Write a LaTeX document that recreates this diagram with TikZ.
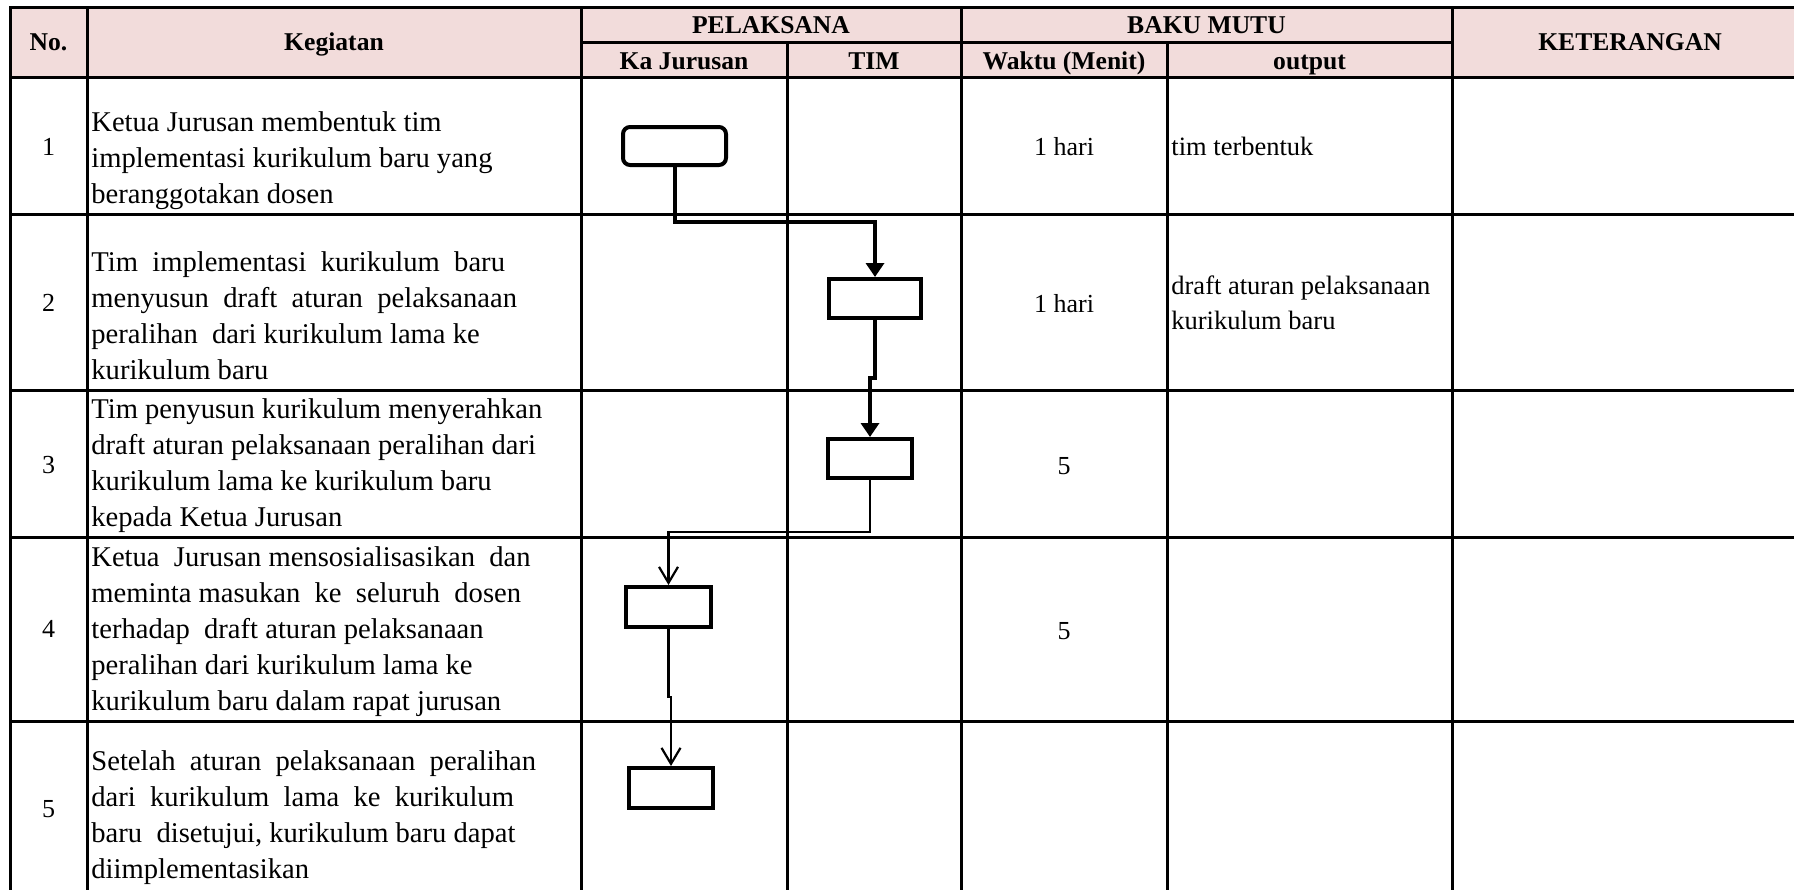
\documentclass[tikz,border=0pt]{standalone}
\usepackage{fontspec}
\setmainfont{Liberation Serif}
\usepackage{tikz}
\usetikzlibrary{positioning,arrows.meta}
\definecolor{headpink}{HTML}{F2DCDB}

\begin{document}
\begin{tikzpicture}
[x=0.5pt, y=-0.5pt,
gridline/.style={line width=1.5pt, line cap=rect},
headtext/.style={font=\fontsize{12.8}{15}\selectfont\bfseries, anchor=base, inner sep=0pt},
numtext/.style={font=\fontsize{13}{17}\selectfont, anchor=base, inner sep=0pt},
kegtext/.style={font=\fontsize{14.3}{18}\selectfont, align=left, anchor=base west, inner sep=0pt},
outtext/.style={font=\fontsize{13.25}{17.5}\selectfont, align=left, anchor=base west, inner sep=0pt},
roundbox/.style={rectangle, rounded corners=3.5pt, draw, line width=2pt, minimum width=51.5pt, minimum height=19pt, inner sep=0pt},
squarebox/.style={rectangle, draw, line width=2pt, minimum height=19.5pt, inner sep=0pt},
thickflow/.style={line width=2pt, -{Triangle[length=7pt,width=9pt]}},
thinflow/.style={line width=1.1pt, -{Straight Barb[length=8pt,width=9.5pt]}},
]
\useasboundingbox (0,0) rectangle (1794,889);

% header band
\fill[headpink] (10,7.5) rectangle (1794,77.5);
\node[headtext] (hno) at (48.5,50.5) {No.};
\node[headtext] (hkeg) at (334,50.5) {Kegiatan};
\node[headtext] (hpel) at (771,33) {PELAKSANA};
\node[headtext] (hka) at (684,69.5) {Ka Jurusan};
\node[headtext] (htim) at (874,69.5) {TIM};
\node[headtext] (hbaku) at (1206.5,33) {BAKU MUTU};
\node[headtext] (hwaktu) at (1064,69.5) {Waktu (Menit)};
\node[headtext] (hout) at (1309.5,69.5) {output};
\node[headtext] (hket) at (1630,50.5) {KETERANGAN};

% table rules
\draw[gridline] (10,7.5) -- (1794,7.5);
\draw[gridline] (581,42.5) -- (1452,42.5);
\draw[gridline] (10,77.5) -- (1794,77.5);
\draw[gridline] (10,214) -- (1794,214);
\draw[gridline] (10,390) -- (1794,390);
\draw[gridline] (10,537) -- (1794,537);
\draw[gridline] (10,721) -- (1794,721);
\draw[gridline] (10,7.5) -- (10,889) (87,7.5) -- (87,889) (581,7.5) -- (581,889);
\draw[gridline] (787,42.5) -- (787,889) (961,7.5) -- (961,889);
\draw[gridline] (1167,42.5) -- (1167,889) (1452,7.5) -- (1452,889);

% nomor
\node[numtext] (n1) at (48.5,155) {1};
\node[numtext] (n2) at (48.5,311) {2};
\node[numtext] (n3) at (48.5,473) {3};
\node[numtext] (n4) at (48.5,637) {4};
\node[numtext] (n5) at (48.5,817) {5};

% kegiatan (base = last line)
\node[kegtext] (keg1) at (91,203) {Ketua Jurusan membentuk tim\\implementasi kurikulum baru yang\\beranggotakan dosen};
\node[kegtext] (keg2) at (91,379) {Tim\ \ implementasi\ \ kurikulum\ \ baru\\menyusun\ \ draft\ \ aturan\ \ pelaksanaan\\peralihan\ \ dari kurikulum lama ke\\kurikulum baru};
\node[kegtext] (keg3) at (91,526) {Tim penyusun kurikulum menyerahkan\\draft aturan pelaksanaan peralihan dari\\kurikulum lama ke kurikulum baru\\kepada Ketua Jurusan};
\node[kegtext] (keg4) at (91,710) {Ketua\ \ Jurusan mensosialisasikan\ \ dan\\meminta masukan\ \ ke\ \ seluruh\ \ dosen\\terhadap\ \ draft aturan pelaksanaan\\peralihan dari kurikulum lama ke\\kurikulum baru dalam rapat jurusan};
\node[kegtext] (keg5) at (91,878) {Setelah\ \ aturan\ \ pelaksanaan\ \ peralihan\\dari\ \ kurikulum\ \ lama\ \ ke\ \ kurikulum\\baru\ \ disetujui, kurikulum baru dapat\\diimplementasikan};

% baku mutu
\node[numtext] (w1) at (1064,155) {1 hari};
\node[numtext] (w2) at (1064,312) {1 hari};
\node[numtext] (w3) at (1064,474) {5};
\node[numtext] (w4) at (1064,639) {5};
\node[outtext] (out1) at (1171,155) {tim terbentuk};
\node[outtext] (out2) at (1171,329) {draft aturan pelaksanaan\\kurikulum baru};

% flow
\node[roundbox] (ka1) at (674.5,146) {};
\node[squarebox, minimum width=46pt] (tim2) at (875,298.5) {};
\node[squarebox, minimum width=42pt] (tim3) at (870,458.5) {};
\node[squarebox, minimum width=42.5pt, minimum height=20pt] (ka4) at (668.5,607) {};
\node[squarebox, minimum width=42pt, minimum height=20pt] (ka5) at (671,788) {};

\draw[thickflow] (ka1.south) -- ++(0,55) -| (tim2.north);
\draw[thickflow] (tim2.south) -- ++(0,58) -| (tim3.north);
\draw[thinflow] (tim3.south) -- ++(0,52) -| (ka4.north);
\draw[thinflow] (ka4.south) -- ++(0,68) -| (ka5.north);
\end{tikzpicture}
\end{document}
